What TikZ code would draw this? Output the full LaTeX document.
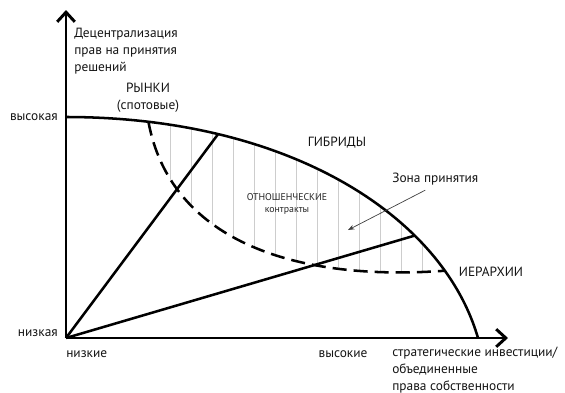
\documentclass[tikz,border=0pt]{standalone}
\usepackage{fontspec}
\setmainfont{PT Sans}
\usetikzlibrary{arrows.meta}
\usetikzlibrary{positioning}
\tikzstyle{axis} = [line width=2.1pt, -{Straight Barb[length=2.4mm,width=4.4mm]}]
\tikzstyle{lbl} = [font=\fontsize{9.5}{12}\selectfont, text=black!92, inner sep=0pt]
\definecolor{hatchgray}{RGB}{205,205,205}

\begin{document}
\begin{tikzpicture}[
    curve/.style={line width=1.8pt},
    dashcurve/.style={line width=1.8pt, dash pattern=on 10pt off 5pt},
    hatch/.style={hatchgray, line width=0.5pt},
    small/.style={font=\fontsize{7}{8.5}\selectfont, text=black!85, inner sep=0pt}
]
    \useasboundingbox (-1.65,-1.35) rectangle (12.475,8.45);

    \coordinate (O) at (0,0);
    \coordinate (ytop) at (0,8.2);
    \coordinate (xend) at (11.05,0);

    % frontier
    \coordinate (ftop) at (0,5.525);
    \coordinate (fc1) at (5.5,5.525);
    \coordinate (fc2) at (9.4,3.1);
    \coordinate (fend) at (10.3,0);
    \path (ftop) .. controls (fc1) and (fc2) .. (fend)
        coordinate[pos=0.13] (d1)
        coordinate[pos=0.25] (p1)
        coordinate[pos=0.70] (p2)
        coordinate[pos=0.81] (d2);

    % dashed curve
    \coordinate (dc1) at (2.6,2.5);
    \coordinate (dc2) at (5.6,1.4);

    % zone
    \begin{scope}
        \clip (ftop) .. controls (fc1) and (fc2) .. (fend) -- (O) -- cycle;
        \clip (d1) .. controls (dc1) and (dc2) .. (d2) -- (12,0 |- d2) -- (12,8) -- (d1 |- 0,8) -- cycle;
        \foreach \x in {2.6,3.125,...,9.4}
            \draw[hatch] (\x,0) -- (\x,6);
    \end{scope}

    \draw[curve] (ftop) .. controls (fc1) and (fc2) .. (fend);
    \draw[dashcurve] (d1) .. controls (dc1) and (dc2) .. (d2);
    \draw[curve] (O) -- (p1);
    \draw[curve] (O) -- (p2);

    \draw[axis] (O) -- (ytop);
    \draw[axis] (O) -- (xend);

    \node[lbl, align=left, anchor=north west] (ytitle) at (0.2,7.75) {Децентрализация\\прав на принятия\\решений};
    \node[lbl, align=center] (markets) at (2.05,6.0) {РЫНКИ\\(спотовые)};
    \node[lbl] (hybrids) at (6.775,4.875) {ГИБРИДЫ};
    \node[small, align=center] (relational) at (5.525,3.35) {ОТНОШЕНЧЕСКИЕ\\контракты};
    \node[lbl] (hierarchy) at (10.625,1.65) {ИЕРАРХИИ};
    \node[lbl, anchor=west] (zone) at (8.15,3.975) {Зона принятия};
    \coordinate (zonetip) at (7.05,2.7);
    \draw[black!75, line width=0.5pt, -{Stealth[length=1.6mm,width=1.2mm]}] ([xshift=-0.25cm,yshift=-0.12cm]zone.south) -- (zonetip);

    \node[lbl, anchor=east] (yhigh) at (-0.2,5.525) {высокая};
    \node[lbl, anchor=east] (ylow) at (-0.2,0.125) {низкая};
    \node[lbl, anchor=west] (xlow) at (0,-0.4) {низкие};
    \node[lbl] (xhigh) at (6.925,-0.4) {высокие};
    \node[lbl, align=left, anchor=north west] (xtitle) at (8.15,-0.22) {стратегические инвестиции/\\объединенные\\права собственности};
\end{tikzpicture}
\end{document}
